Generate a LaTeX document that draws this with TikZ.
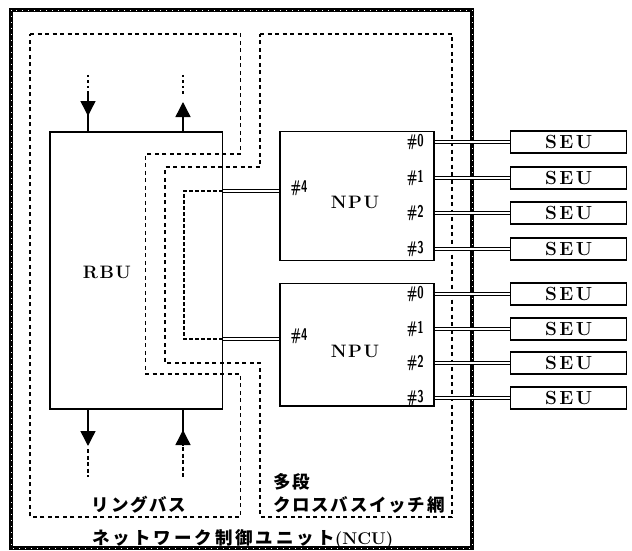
\documentclass[tikz,border=0pt]{standalone}
\usepackage{fontspec}
\newfontfamily\jpfont{Noto Sans CJK JP}[LetterSpace=10]
\newfontfamily\jpwide{Noto Sans CJK JP}[LetterSpace=17]
\usetikzlibrary{arrows.meta}

\newcommand\portlabel[1]{\scalebox{0.68}[1]{#1}}

\tikzset{
  unitbox/.style={draw, line width=1.2pt, inner sep=0pt},
  seubox/.style={unitbox, minimum width=116pt, minimum height=22pt,
    font=\fontsize{19}{19}\selectfont\bfseries},
  portno/.style={inner sep=0pt, font=\fontsize{17}{17}\selectfont\bfseries\sffamily},
  unitname/.style={inner sep=0pt, font=\fontsize{18}{18}\selectfont\bfseries},
  jptext/.style={inner sep=0pt, font=\jpfont\bfseries\fontsize{17.5}{17.5}\selectfont},
  linkline/.style={double, double distance=2pt, line width=0.8pt},
  regionline/.style={line width=1.1pt, dash pattern=on 4pt off 3.5pt},
  loopback/.style={line width=1.9pt, dash pattern=on 4pt off 2pt},
  thinbus/.style={line width=1.3pt, dash pattern=on 2.5pt off 3pt},
  thickbus/.style={line width=1.9pt, dash pattern=on 4pt off 2.5pt},
  bushead/.style={-{Triangle[width=15pt,length=15pt]}, line width=1.4pt},
}

\begin{document}
\begin{tikzpicture}[x=1pt, y=-1pt]
    \useasboundingbox (0,0) rectangle (632,551);

    % Network control unit frame
    \draw[line width=3.4pt] (11,10) rectangle (472,548);
    \draw[white, line width=0.5pt, dash pattern=on 1pt off 5pt] (11,10) rectangle (472,548);

    % Ring bus and crossbar regions
    \draw[regionline] (30,34) -- (240.7,34) -- (240.7,154) -- (145.7,154) -- (145.7,374)
        -- (240.7,374) -- (240.7,517) -- (30,517) -- cycle;
    \draw[regionline] (260,34) -- (452,34) -- (452,517) -- (260,517) -- (260,363)
        -- (165,363) -- (165,167) -- (260,167) -- cycle;

    % Units
    \node[unitbox, minimum width=172.7pt, minimum height=277pt] (rbu) at (136.35,270.5) {};
    \node[unitbox, minimum width=154pt, minimum height=129pt] (npua) at (357,196.2) {};
    \node[unitbox, minimum width=154pt, minimum height=122.7pt] (npub) at (357,344.7) {};

    \node[unitname] (rbutext) at (107,272) {R\kern1.5pt B\kern1.5pt U};
    \node[unitname] (npuatext) at (355,202) {N\kern1.5pt P\kern1.5pt U};
    \node[unitname] (npubtext) at (355,351) {N\kern1.5pt P\kern1.5pt U};
    \node[portno] (pa4) at (299,188) {\portlabel{\#4}};
    \node[portno] (pb4) at (299,336) {\portlabel{\#4}};

    % SEUs on the crossbar ports
    \foreach \i/\y in {0/142,1/178,2/213,3/249} {
        \node[seubox] (seua\i) at (568.7,\y) {S\kern2.5pt E\kern2.5pt U};
        \node[portno, anchor=east] (pa\i) at (424,\y) {\portlabel{\#\i}};
        \draw[linkline] (npua.east |- seua\i.west) -- (seua\i.west);
    }
    \foreach \i/\y in {0/294,1/329,2/363,3/398} {
        \node[seubox] (seub\i) at (568.7,\y) {S\kern2.5pt E\kern2.5pt U};
        \node[portno, anchor=east] (pb\i) at (424,\y) {\portlabel{\#\i}};
        \draw[linkline] (npub.east |- seub\i.west) -- (seub\i.west);
    }

    % RBU to NPU #4 links and loopback
    \coordinate (ra) at (222.7,190.7);
    \coordinate (rb) at (222.7,339);
    \draw[linkline] (ra) -- (ra -| npua.west);
    \draw[linkline] (rb) -- (rb -| npub.west);
    \draw[loopback] (ra) -- (184,190.7) -- (184,339) -- (rb);

    % Ring bus in / out
    \draw[thinbus] (88,75) -- (88,93);
    \draw[line width=1.4pt] (88,91) -- (88,132);
    \draw[bushead] (88,91) -- (88,116);
    \draw[thinbus] (183,75) -- (183,96);
    \draw[bushead] (183,132) -- (183,102);

    \draw[line width=1.4pt] (88,409) -- (88,430);
    \draw[bushead] (88,409) -- (88,446);
    \draw[thickbus] (88,449) -- (88,477);
    \draw[line width=1.4pt] (183,409) -- (183,445);
    \draw[bushead] (183,445) -- (183,430);
    \draw[thickbus] (183,447) -- (183,477);

    % Region labels
    \node[jptext] (ringbus) at (139,505) {リングバス};
    \node[jptext, anchor=west] (tadan) at (273,482) {多段};
    \node[jptext, anchor=west] (xbar) at (273,505) {クロスバスイッチ網};
    \node[jptext, anchor=west] (ncu) at (92,539)
        {\jpwide ネットワーク制御ユニット{\rmfamily\bfseries\fontsize{17}{17}\selectfont(NCU)}};
\end{tikzpicture}
\end{document}
